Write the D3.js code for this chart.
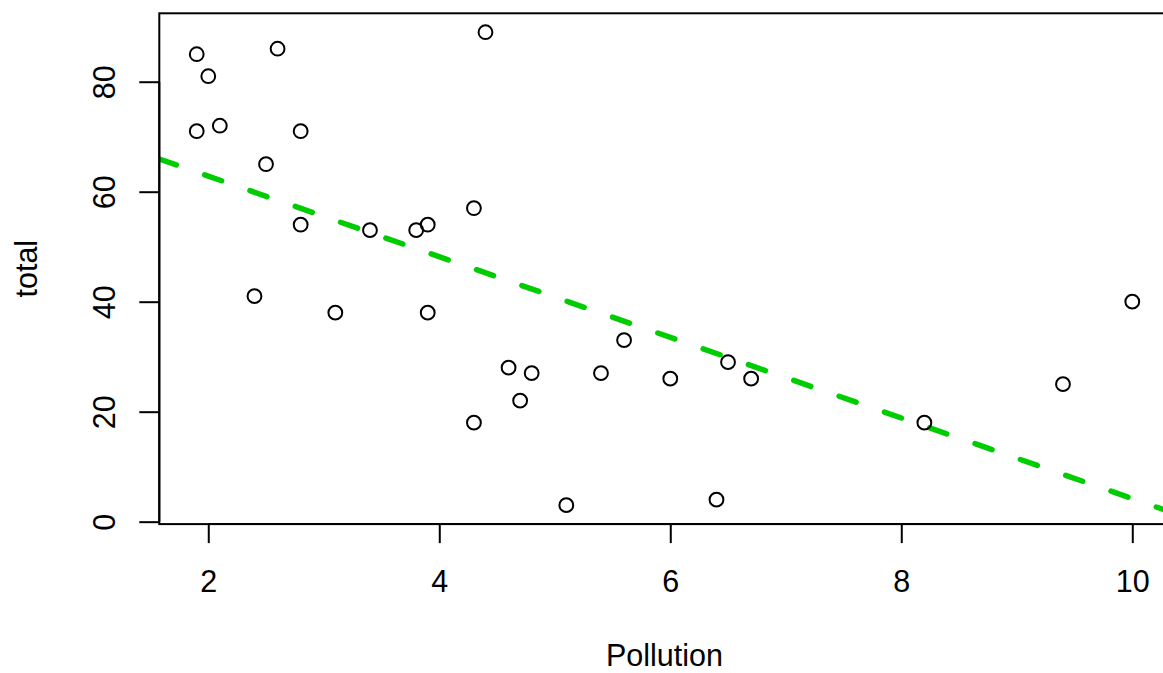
<!DOCTYPE html>
<html><head><meta charset="utf-8">
<script src="https://cdn.jsdelivr.net/npm/d3@7"></script>
<style>html,body{margin:0;padding:0;background:#fff;}</style>
</head><body>
<script>
const pollution = [1.9,1.9,2.0,2.1,2.4,2.5,2.6,2.8,2.8,3.1,3.4,3.8,3.9,3.9,4.3,4.3,4.4,4.6,4.7,4.8,5.1,5.4,5.6,6.0,6.4,6.5,6.7,8.2,9.4,10.0];
const total     = [85,71,81,72,41,65,86,71,54,38,53,53,54,38,57,18,89,28,22,27,3,27,33,26,4,29,26,18,25,40];
const xTicks = [2,4,6,8,10];
const yTicks = [0,20,40,60,80];
const fitIntercept = 77.5;
const fitSlope = -7.33;
const xLabel = "Pollution";
const yLabel = "total";

const W = 1163, H = 673;
const font = "'Liberation Sans', Arial, sans-serif";
const fs = 30.5;

const x = d3.scaleLinear().domain([1.576, 10.324]).range([159.3, 1169.7]);
const y = d3.scaleLinear().domain([-0.44, 92.44]).range([524.1, 13.3]);

const svg = d3.select("body").append("svg").attr("width", W).attr("height", H)
  .style("font-family", font);

svg.append("clipPath").attr("id","clip").append("rect")
  .attr("x", x.range()[0]).attr("y", y.range()[1])
  .attr("width", x.range()[1]-x.range()[0]).attr("height", y.range()[0]-y.range()[1]);

// regression line
const xd = x.domain();
svg.append("line")
  .attr("clip-path","url(#clip)")
  .attr("x1", x(xd[0])).attr("y1", y(fitIntercept + fitSlope*xd[0]))
  .attr("x2", x(xd[1])).attr("y2", y(fitIntercept + fitSlope*xd[1]))
  .attr("stroke", "#00CD00").attr("stroke-width", 5.5)
  .attr("stroke-dasharray", "18,30").attr("stroke-linecap","round");

// points
svg.append("g").selectAll("circle").data(pollution.map((p,i)=>[p,total[i]])).join("circle")
  .attr("cx", d=>x(d[0])).attr("cy", d=>y(d[1])).attr("r", 6.9)
  .attr("fill","none").attr("stroke","#000").attr("stroke-width",2);

// box
svg.append("rect")
  .attr("x", x.range()[0]).attr("y", y.range()[1])
  .attr("width", x.range()[1]-x.range()[0]).attr("height", y.range()[0]-y.range()[1])
  .attr("fill","none").attr("stroke","#000").attr("stroke-width",2);

// x axis
const xAxis = d3.axisBottom(x).tickValues(xTicks).tickSize(19).tickPadding(10).tickFormat(d3.format("d"));
const gx = svg.append("g").attr("transform", `translate(0,${y.range()[0]})`).call(xAxis);
gx.select(".domain").attr("d", `M${x(2)},0H${x(10)}`).attr("stroke-width",2);
gx.selectAll(".tick line").attr("stroke-width",2);
gx.selectAll(".tick text").attr("font-size", fs).attr("font-family", font).attr("fill","#000")
  .attr("dy", null).attr("y", 68);

// y axis
const yAxis = d3.axisLeft(y).tickValues(yTicks).tickSize(20).tickFormat(d3.format("d"));
const gy = svg.append("g").attr("transform", `translate(${x.range()[0]},0)`).call(yAxis);
gy.select(".domain").attr("d", `M0,${y(0)}V${y(80)}`).attr("stroke-width",2);
gy.selectAll(".tick line").attr("stroke-width",2);
gy.selectAll(".tick text").attr("font-size", fs).attr("font-family", font).attr("fill","#000")
  .attr("x", null).attr("dy", null).attr("text-anchor","middle")
  .attr("transform", "translate(-44,0) rotate(-90)").attr("y", 0);

// axis titles
svg.append("text").attr("x", (x.range()[0]+x.range()[1])/2).attr("y", 666)
  .attr("text-anchor","middle").attr("font-size", fs).text(xLabel);
svg.append("text").attr("transform", `translate(37,${(y.range()[0]+y.range()[1])/2}) rotate(-90)`)
  .attr("text-anchor","middle").attr("font-size", fs).text(yLabel);
</script>
</body></html>
